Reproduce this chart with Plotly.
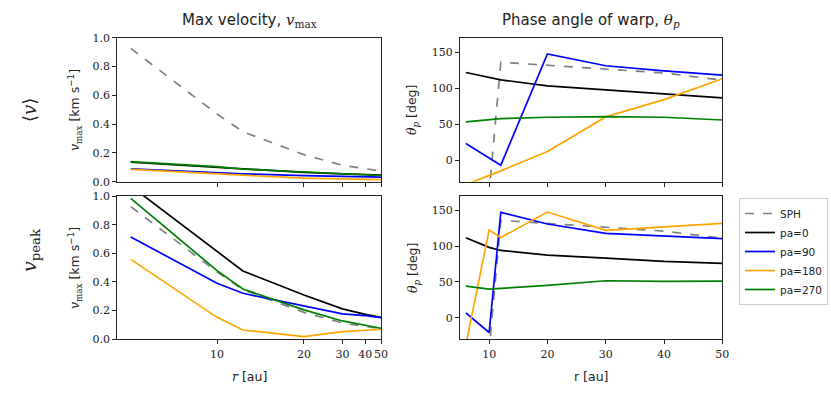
import numpy as np
import plotly.graph_objects as go

# radii [au] where the warp was measured
r = [6, 10, 12, 20, 30, 40, 50]

# mean velocity <v>, v_max [km/s]
v_mean_sph = [0.926, 0.47, 0.347, 0.188, 0.114, 0.090, 0.074]
v_mean_pa0 = [0.135, 0.100, 0.085, 0.065, 0.054, 0.049, 0.046]
v_mean_pa90 = [0.090, 0.062, 0.055, 0.042, 0.035, 0.033, 0.032]
v_mean_pa180 = [0.085, 0.052, 0.045, 0.025, 0.017, 0.015, 0.014]
v_mean_pa270 = [0.139, 0.105, 0.088, 0.067, 0.055, 0.048, 0.043]

# peak velocity v_peak, v_max [km/s]
v_peak_sph = [0.926, 0.47, 0.347, 0.188, 0.114, 0.090, 0.074]
v_peak_pa0 = [1.07, 0.612, 0.477, 0.309, 0.212, 0.174, 0.153]
v_peak_pa90 = [0.714, 0.391, 0.321, 0.233, 0.177, 0.165, 0.151]
v_peak_pa180 = [0.558, 0.153, 0.065, 0.019, 0.053, 0.060, 0.070]
v_peak_pa270 = [0.984, 0.479, 0.351, 0.205, 0.128, 0.100, 0.077]

# phase angle theta_p [deg]
th_mean_sph = [-90, -45, 136, 132, 127, 121, 111]
th_mean_pa0 = [121.7, 114.6, 111.5, 103, 97.5, 92.4, 86.4]
th_mean_pa90 = [23, 3, -7, 147.5, 131, 124, 118]
th_mean_pa180 = [-34, -22, -15, 12, 60, 84, 113]
th_mean_pa270 = [53, 56.5, 57.6, 59.5, 60.4, 59.5, 55.7]

th_peak_sph = [-90, -45, 136, 132, 127, 121, 111]
th_peak_pa0 = [111.8, 98.3, 94, 87.6, 83.4, 78.7, 75.9]
th_peak_pa90 = [7, -20.5, 147.2, 130.9, 117.8, 114.6, 110.4]
th_peak_pa180 = [-38, 122.5, 112, 147.6, 122, 127, 131.8]
th_peak_pa270 = [44.2, 40, 41, 45.2, 51.7, 50.8, 51.2]

names = ["SPH", "pa=0", "pa=90", "pa=180", "pa=270"]
colors = ["#808080", "black", "#0000ff", "#ffa500", "#008000"]
dashes = ["dash", "solid", "solid", "solid", "solid"]

r_ticks = [10, 20, 30, 40, 50]

W, H = 831, 395
SERIF = "DejaVu Serif"
SANS = "DejaVu Sans"


def u(vals):
    # left column uses a 1/sqrt(r) radial scale
    return [-1.0 / np.sqrt(v) for v in vals]


def px(x0, x1):
    return [x0 / W, x1 / W]


def py(top, bottom):
    return [1 - bottom / H, 1 - top / H]


fig = go.Figure()

panels = [
    ("x", "y", True, [v_mean_sph, v_mean_pa0, v_mean_pa90, v_mean_pa180, v_mean_pa270]),
    ("x2", "y2", False, [th_mean_sph, th_mean_pa0, th_mean_pa90, th_mean_pa180, th_mean_pa270]),
    ("x3", "y3", True, [v_peak_sph, v_peak_pa0, v_peak_pa90, v_peak_pa180, v_peak_pa270]),
    ("x4", "y4", False, [th_peak_sph, th_peak_pa0, th_peak_pa90, th_peak_pa180, th_peak_pa270]),
]

for i, (xa, ya, left, series) in enumerate(panels):
    xs = u(r) if left else r
    for name, ys, c, d in zip(names, series, colors, dashes):
        fig.add_trace(go.Scatter(
            x=xs, y=ys, mode="lines", name=name,
            line=dict(color=c, width=1.7, dash=d),
            xaxis=xa, yaxis=ya,
            showlegend=(i == 3), legendgroup=name,
        ))

ax_common = dict(
    showline=True, linecolor="#222", linewidth=1.3, mirror=True,
    ticks="outside", ticklen=4, tickwidth=1.2, tickcolor="#222",
    showgrid=False, zeroline=False, automargin=False, tickangle=0,
    tickfont=dict(family=SERIF, size=11, color="#222"),
)

left_x = dict(ax_common, range=[-1 / np.sqrt(5.6), -1 / np.sqrt(50)],
              tickmode="array", tickvals=u(r_ticks), ticktext=[str(t) for t in r_ticks])
right_x = dict(ax_common, range=[5, 50], tickmode="array", tickvals=r_ticks)
vel_y = dict(ax_common, range=[0, 1], tickmode="array",
             tickvals=[0, 0.2, 0.4, 0.6, 0.8, 1.0], tickformat=".1f")
ang_y = dict(ax_common, range=[-30, 170], tickmode="array", tickvals=[0, 50, 100, 150])

dl = px(117.3, 381)
dr = px(460, 722.3)
dt = py(37.7, 181.7)
db = py(196, 339.3)

fig.update_layout(
    width=W, height=H,
    margin=dict(l=0, r=0, t=0, b=0, autoexpand=False),
    plot_bgcolor="white", paper_bgcolor="white",
    xaxis=dict(left_x, domain=dl, anchor="y", showticklabels=False),
    yaxis=dict(vel_y, domain=dt, anchor="x"),
    xaxis2=dict(right_x, domain=dr, anchor="y2", showticklabels=False),
    yaxis2=dict(ang_y, domain=dt, anchor="x2"),
    xaxis3=dict(left_x, domain=dl, anchor="y3"),
    yaxis3=dict(vel_y, domain=db, anchor="x3"),
    xaxis4=dict(right_x, domain=dr, anchor="y4"),
    yaxis4=dict(ang_y, domain=db, anchor="x4"),
    legend=dict(
        x=739 / W, y=1 - 198 / H, xanchor="left", yanchor="top",
        bgcolor="white", bordercolor="#cccccc", borderwidth=1,
        font=dict(family=SANS, size=10.5, color="#222"),
        tracegroupgap=0, itemwidth=30,
    ),
)

vlabel = (f'<span style="font-family:{SERIF}"><i>v</i><sub>max</sub></span>'
          ' [km s<sup>−1</sup>]')
tlabel = f'<span style="font-family:{SERIF}"><i>θ</i><sub><i>p</i></sub></span> [deg]'

notes = [
    (249 / W, 1 - 20 / H, f'Max velocity, <span style="font-family:{SERIF}"><i>v</i><sub>max</sub></span>', 15, SANS, 0),
    (591 / W, 1 - 20 / H, f'Phase angle of warp, <span style="font-family:{SERIF}"><i>θ</i><sub><i>p</i></sub></span>', 15, SANS, 0),
    (75 / W, 1 - 110 / H, vlabel, 12.5, SANS, -90),
    (75 / W, 1 - 268 / H, vlabel, 12.5, SANS, -90),
    (413 / W, 1 - 110 / H, tlabel, 12.5, SANS, -90),
    (413 / W, 1 - 268 / H, tlabel, 12.5, SANS, -90),
    (249 / W, 1 - 376 / H, f'<span style="font-family:{SERIF}"><i>r</i></span> [au]', 12.5, SANS, 0),
    (591 / W, 1 - 376 / H, "r [au]", 12.5, SANS, 0),
    (30 / W, 1 - 110 / H, "⟨<i>v</i>⟩", 18, SERIF, -90),
    (30 / W, 1 - 250 / H, "<i>v</i><sub>peak</sub>", 19, SERIF, -90),
]
for x, y, text, size, fam, ang in notes:
    fig.add_annotation(
        x=x, y=y, xref="paper", yref="paper", text=text, showarrow=False,
        xanchor="center", yanchor="middle", textangle=ang,
        font=dict(family=fam, size=size, color="#222"),
    )

# page body margin would otherwise offset the figure by a few pixels
fig.write_html("out.html", config={"displayModeBar": False},
               post_script="document.body.style.margin='0';")
